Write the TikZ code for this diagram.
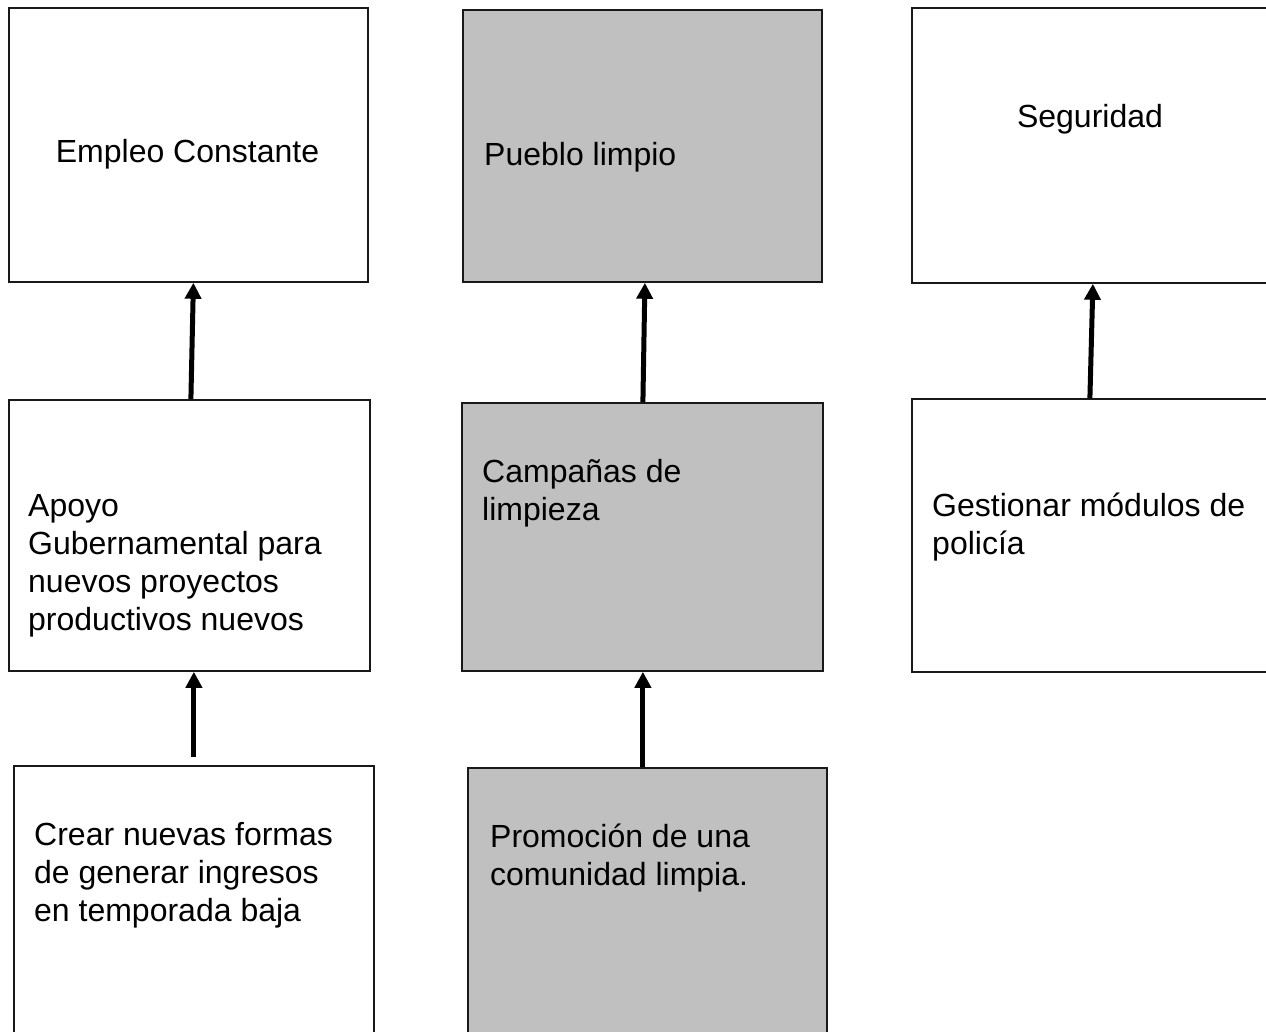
\documentclass[tikz,border=0pt]{standalone}
\usepackage{fontspec}
\setmainfont{Liberation Sans}
\usetikzlibrary{shapes,arrows.meta}
\definecolor{relleno}{HTML}{C0C0C0}
\tikzset{
  caja/.style={shape=rectangle,draw=black!90,line width=1.8pt,anchor=north west,inner sep=0pt,minimum width=359pt},
  cajagris/.style={caja,fill=relleno},
  texto/.style={align=left,inner sep=0pt,font=\fontsize{32}{38}\selectfont},
  flecha/.style={-{Triangle[length=16pt,width=16pt]},draw=black,line width=5pt}
}
\begin{document}
\begin{tikzpicture}[x=1pt,y=-1pt]
\useasboundingbox (0,0) rectangle (1266,1032);
\node[caja,minimum height=274pt] (0) at (8,7) {};
\node[cajagris,minimum height=272pt] (1) at (462,9) {};
\node[caja,minimum height=275pt] (2) at (911,7) {};
\node[caja,minimum width=361pt,minimum height=271pt] (3) at (8,399) {};
\node[cajagris,minimum width=361pt,minimum height=268pt] (4) at (461,402) {};
\node[caja,minimum height=273pt] (5) at (911,398) {};
\node[caja,minimum width=360pt,minimum height=300pt] (6) at (13,765) {};
\node[cajagris,minimum height=300pt] (7) at (467,767) {};

% base anchor = last line
\node[texto,anchor=base] (t0) at (187.5,163) {Empleo Constante};
\node[texto,anchor=base west] (t1) at (484,166) {Pueblo limpio};
\node[texto,anchor=base] (t2) at (1090,128) {Seguridad};
\node[texto,anchor=base west] (t3) at (28,630) {Apoyo\\Gubernamental para\\nuevos proyectos\\productivos nuevos};
\node[texto,anchor=base west] (t4) at (482,520) {Campañas de\\limpieza};
\node[texto,anchor=base west] (t5) at (932,554) {Gestionar módulos de\\policía};
\node[texto,anchor=base west] (t6) at (34,921) {Crear nuevas formas\\de generar ingresos\\en temporada baja};
\node[texto,anchor=base west] (t7) at (490,885) {Promoción de una\\comunidad limpia.};

\draw [flecha] ([xshift=1.5pt]3.north) -- ([xshift=5pt]0.south);
\draw [flecha] ([xshift=0.5pt]4.north) -- ([xshift=2.5pt]1.south);
\draw [flecha] ([xshift=-1.5pt]5.north) -- ([xshift=1.5pt]2.south);
\draw [flecha,shorten <=8pt] (6.north) -- ([xshift=4.5pt]3.south);
\draw [flecha] ([xshift=-4.5pt]7.north) -- ([xshift=0.5pt]4.south);
\end{tikzpicture}
\end{document}
